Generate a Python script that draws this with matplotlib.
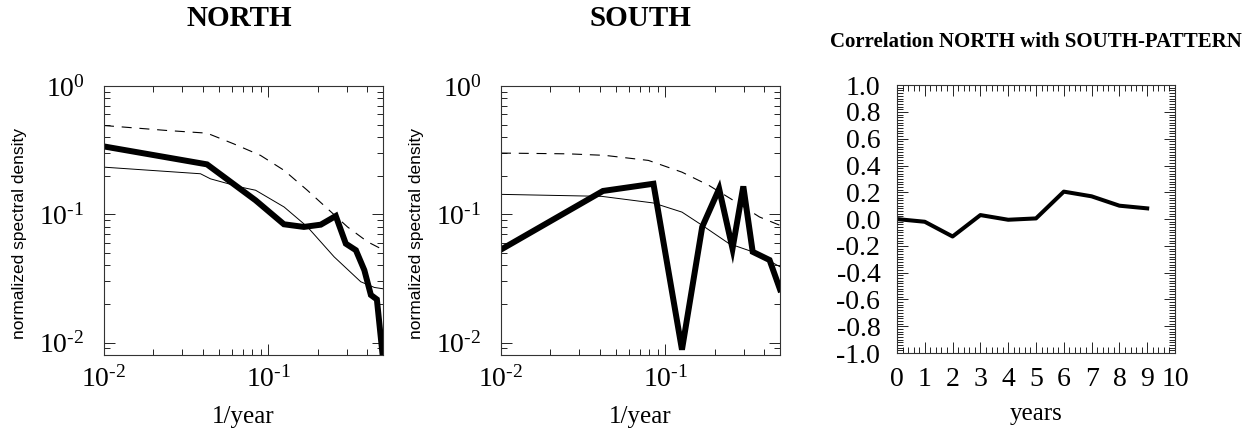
import math
import matplotlib
matplotlib.use("Agg")
import matplotlib.pyplot as plt
from matplotlib.ticker import FuncFormatter, LogLocator, MultipleLocator, NullFormatter

plt.rcParams['font.family'] = 'Liberation Serif'
plt.rcParams['mathtext.fontset'] = 'custom'
plt.rcParams['mathtext.rm'] = 'Liberation Serif'
plt.rcParams['axes.unicode_minus'] = False

# NORTH spectra
north_f = [0.01, 0.0424, 0.0838, 0.1247, 0.165, 0.209, 0.258, 0.297, 0.342, 0.385, 0.422, 0.459, 0.497]
north_psd = [0.338, 0.245, 0.1285, 0.0836, 0.0797, 0.083, 0.097, 0.059, 0.0525, 0.0367, 0.0235, 0.0217, 0.0081]
north_fit_f = [0.01, 0.0387, 0.0445, 0.0678, 0.0838, 0.125, 0.173, 0.252, 0.366, 0.443, 0.497]
north_fit = [0.233, 0.207, 0.189, 0.163, 0.154, 0.114, 0.080, 0.0466, 0.0298, 0.0269, 0.0263]
north_sig_f = [0.01, 0.0242, 0.0424, 0.0617, 0.0897, 0.125, 0.173, 0.229, 0.304, 0.403, 0.485]
north_sig = [0.492, 0.450, 0.429, 0.354, 0.288, 0.220, 0.154, 0.111, 0.0797, 0.061, 0.054]

# SOUTH spectra
south_f = [0.01, 0.0418, 0.0848, 0.1265, 0.168, 0.213, 0.257, 0.299, 0.341, 0.432, 0.5]
south_psd = [0.0531, 0.152, 0.173, 0.0088, 0.0797, 0.158, 0.054, 0.165, 0.051, 0.044, 0.026]
south_fit_f = [0.01, 0.041, 0.0848, 0.1265, 0.168, 0.245, 0.341, 0.5]
south_fit = [0.143, 0.138, 0.1225, 0.104, 0.082, 0.059, 0.051, 0.039]
south_sig_f = [0.01, 0.0255, 0.0428, 0.079, 0.1265, 0.1845, 0.269, 0.375, 0.5]
south_sig = [0.300, 0.296, 0.288, 0.263, 0.213, 0.168, 0.125, 0.0953, 0.082]

# lag correlation
lag_years = [0, 1, 2, 3, 4, 5, 6, 7, 8, 9]
lag_corr = [0.0, -0.02, -0.13, 0.03, -0.005, 0.005, 0.205, 0.17, 0.10, 0.08]

fig = plt.figure(figsize=(12.54, 4.3), dpi=100)


def pow10(v, pos):
    e = round(math.log10(v))
    s = str(e).replace('-', '\u2010')
    return r'$\mathregular{10^{%s}}$' % s


def spectrum_axes(rect, f, psd, fit_f, fit, sig_f, sig):
    ax = fig.add_axes(rect)
    ax.plot(sig_f, sig, color='black', lw=0.8, ls=(0, (9, 7)))
    ax.plot(fit_f, fit, color='black', lw=0.7)
    ax.plot(f, psd, color='black', lw=4.3, solid_joinstyle='miter')
    ax.set_xscale('log')
    ax.set_yscale('log')
    ax.set_xlim(0.01, 0.5)
    ax.set_ylim(0.008, 1.0)
    ax.xaxis.set_major_locator(LogLocator(base=10, numticks=10))
    ax.yaxis.set_major_locator(LogLocator(base=10, numticks=10))
    ax.xaxis.set_major_formatter(FuncFormatter(pow10))
    ax.yaxis.set_major_formatter(FuncFormatter(pow10))
    ax.xaxis.set_minor_formatter(NullFormatter())
    ax.yaxis.set_minor_formatter(NullFormatter())
    ax.tick_params(which='both', direction='in', top=True, right=True, width=0.6)
    ax.tick_params(which='major', length=8, labelsize=20)
    ax.tick_params(which='minor', length=4)
    ax.tick_params(axis='y', which='major', pad=14)
    ax.tick_params(axis='x', which='major', pad=8)
    for s in ax.spines.values():
        s.set_linewidth(0.8)
        s.set_color('#333333')
    ax.set_xlabel('1/year', fontsize=18)
    ax.xaxis.set_label_coords(0.5, -0.19)
    ax.set_ylabel('normalized spectral density', fontsize=12.5, family='Liberation Sans')
    ax.yaxis.set_label_coords(-0.275, 0.45)
    return ax


spectrum_axes([0.0829, 0.1744, 0.2225, 0.6256], north_f, north_psd,
              north_fit_f, north_fit, north_sig_f, north_sig)
spectrum_axes([0.3995, 0.1744, 0.2225, 0.6256], south_f, south_psd,
              south_fit_f, south_fit, south_sig_f, south_sig)

ax3 = fig.add_axes([0.7153, 0.179, 0.2217, 0.623])
ax3.plot(lag_years, lag_corr, color='black', lw=2.9)
ax3.set_xlim(0, 10)
ax3.set_ylim(-1.0, 1.0)
ax3.xaxis.set_major_locator(MultipleLocator(1))
ax3.xaxis.set_minor_locator(MultipleLocator(0.2))
ax3.yaxis.set_major_locator(MultipleLocator(0.2))
ax3.yaxis.set_minor_locator(MultipleLocator(0.02))
ax3.yaxis.set_major_formatter(FuncFormatter(lambda v, p: '%.1f' % (0.0 if abs(v) < 1e-9 else v)))
ax3.tick_params(which='both', direction='in', top=True, right=True, width=0.6)
ax3.tick_params(which='major', length=8, labelsize=20)
ax3.tick_params(which='minor', length=4)
ax3.tick_params(axis='y', which='major', pad=12)
ax3.tick_params(axis='x', which='major', pad=10)
for s in ax3.spines.values():
    s.set_linewidth(0.8)
    s.set_color('#333333')
ax3.set_xlabel('years', fontsize=18)
ax3.xaxis.set_label_coords(0.5, -0.185)

fig.text(239 / 1254, 1 - 19 / 430, 'NORTH', fontsize=21, fontweight='bold', ha='center', va='center')
fig.text(640 / 1254, 1 - 19 / 430, 'SOUTH', fontsize=21, fontweight='bold', ha='center', va='center')
fig.text(1036 / 1254, 1 - 42 / 430, 'Correlation NORTH with SOUTH-PATTERN', fontsize=15,
         fontweight='bold', ha='center', va='center')

fig.savefig('out.png', dpi=100)
